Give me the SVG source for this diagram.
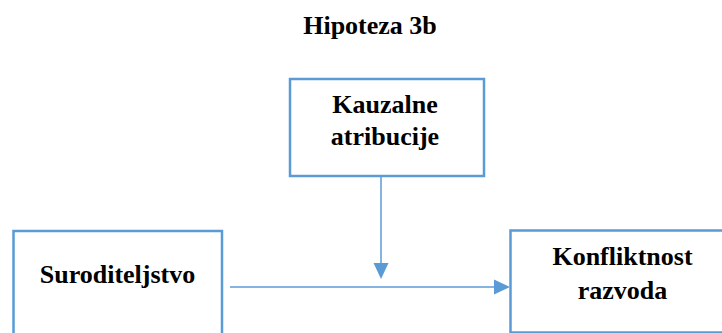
<svg xmlns="http://www.w3.org/2000/svg" width="722" height="333" viewBox="0 0 722 333">
<style>
.box{fill:#fff;stroke:#5B9BD5;stroke-width:2.5}
.t{font-family:"Liberation Serif","Times New Roman",serif;font-weight:bold;font-size:26px;fill:#000;text-anchor:middle}
.ln{stroke:#5B9BD5;stroke-width:1.5;fill:none}
.ah{fill:#5B9BD5}
</style>
<rect width="722" height="333" fill="#fff"/>
<text class="t" x="370" y="34">Hipoteza 3b</text>
<g id="connectors">
<line class="ln" x1="381" y1="177" x2="381" y2="264"/>
<polygon class="ah" points="373.5,263 388.5,263 381,279"/>
<line class="ln" x1="230" y1="287" x2="496" y2="287"/>
<polygon class="ah" points="494,279.5 494,294.5 510,287"/>
</g>
<g id="kauzalne">
<rect class="box" x="290" y="79" width="194" height="97"/>
<text class="t" x="385" y="113">Kauzalne</text>
<text class="t" x="385" y="145">atribucije</text>
</g>
<g id="suroditeljstvo">
<rect class="box" x="13.5" y="231" width="208.5" height="110"/>
<text class="t" x="117.5" y="283">Suroditeljstvo</text>
</g>
<g id="konfliktnost">
<rect class="box" x="510.5" y="230.5" width="225" height="102"/>
<text class="t" x="622.5" y="265">Konfliktnost</text>
<text class="t" x="622.5" y="299">razvoda</text>
</g>
</svg>
